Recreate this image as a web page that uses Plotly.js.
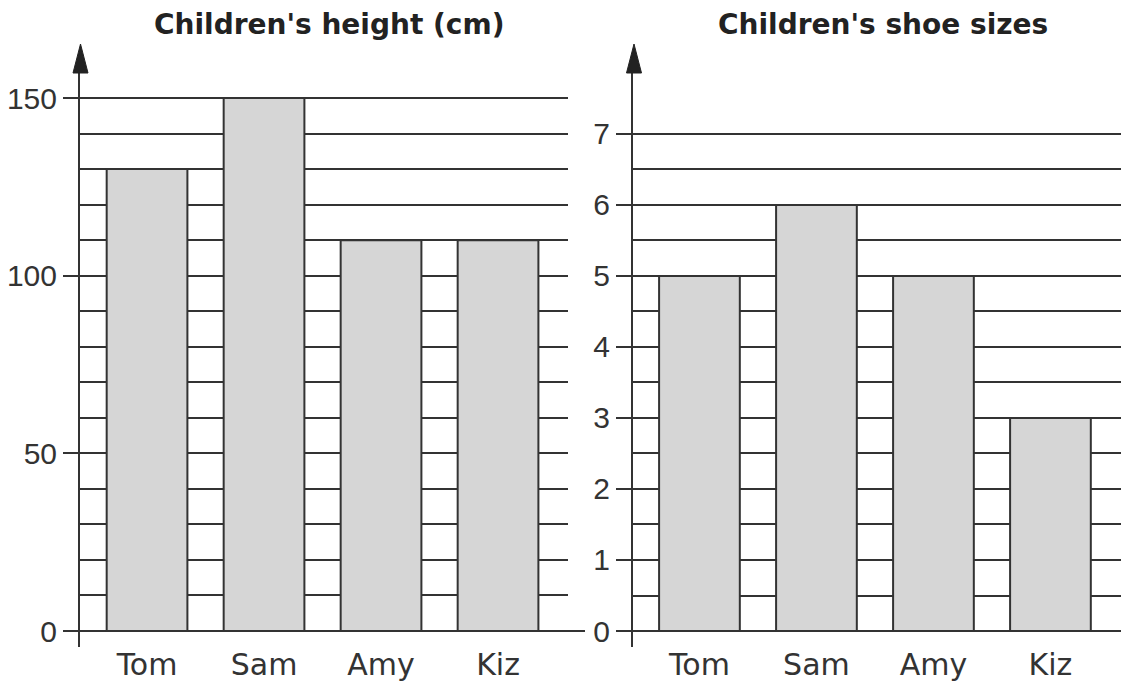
<!DOCTYPE html>
<html>
<head>
<meta charset="utf-8">
<script src="https://cdn.plot.ly/plotly-3.0.1.min.js"></script>
<style>html,body{margin:0;padding:0;background:#fff;}#chart{width:1121px;height:688px;}</style>
</head>
<body>
<div id="chart"></div>
<script>
// ---- data ----
const children = ["Tom", "Sam", "Amy", "Kiz"];
const heightsCm = [130, 150, 110, 110];
const shoeSizes = [5, 6, 5, 3];
const heightTitle = "Children's height (cm)";
const shoeTitle = "Children's shoe sizes";
const heightTickVals = [0, 50, 100, 150];
const shoeTickVals = [0, 1, 2, 3, 4, 5, 6, 7];
const heightGridStep = 10, heightGridMax = 150;
const shoeGridStep = 0.5, shoeGridMax = 7;

function steps(step, max) { const a = []; for (let v = 0; v <= max + 1e-9; v += step) a.push(+v.toFixed(3)); return a; }

const W = 1121, H = 688;
const px = x => x / W, py = y => (H - y) / H;

const ink = '#333333';
const barStyle = { color: '#d6d6d6', line: { color: ink, width: 2 } };

const traces = [
  { type: 'bar', x: children, y: heightsCm, xaxis: 'x', yaxis: 'y', marker: barStyle, hoverinfo: 'x+y' },
  { type: 'bar', x: children, y: shoeSizes, xaxis: 'x2', yaxis: 'y2', marker: barStyle, hoverinfo: 'x+y' }
];

const yDomain = [py(647), py(72)];
const xFont = { family: 'DejaVu Sans', size: 30, color: ink };
const yFont = { family: 'Liberation Sans, Arial', size: 30, color: ink };

function yAxis(range, tickvals, gridvals, anchor) {
  return {
    domain: yDomain, range: range, anchor: anchor, tickmode: 'array', tickvals: tickvals,
    ticks: 'outside', ticklen: 15, tickwidth: 2, tickcolor: ink,
    showline: true, linecolor: ink, linewidth: 2,
    showgrid: true, gridcolor: ink, gridwidth: 2,
    zeroline: false, tickfont: yFont, ticklabelstandoff: 0,
    minor: { tickmode: 'array', tickvals: gridvals, showgrid: true, gridcolor: ink, gridwidth: 2, ticks: '' },
    fixedrange: true
  };
}
function xAxis(domain, range, anchor) {
  return {
    domain: domain, range: range, anchor: anchor, type: 'category',
    showline: false, showgrid: false, zeroline: false, ticks: '',
    tickfont: xFont, ticklabelstandoff: -3, fixedrange: true
  };
}

function arrow(cx) {
  return {
    type: 'path', xref: 'paper', yref: 'paper', layer: 'above',
    path: `M ${px(cx)} ${py(44)} L ${px(cx - 7.5)} ${py(73)} L ${px(cx + 7.5)} ${py(73)} Z`,
    fillcolor: '#222', line: { color: '#222', width: 1 }
  };
}

const layout = {
  width: W, height: H,
  margin: { l: 0, r: 0, t: 0, b: 0 },
  paper_bgcolor: '#ffffff', plot_bgcolor: 'rgba(0,0,0,0)',
  showlegend: false, bargap: 0.31,
  xaxis: xAxis([px(80), px(568)], [-0.573, 3.598], 'y'),
  yaxis: yAxis([-4.503, 157.32], heightTickVals, steps(heightGridStep, heightGridMax), 'x'),
  xaxis2: xAxis([px(633), 1], [-0.568, 3.603], 'y2'),
  yaxis2: yAxis([-0.2254, 7.873], shoeTickVals, steps(shoeGridStep, shoeGridMax), 'x2'),
  shapes: [
    arrow(80.5), arrow(634),
    { type: 'line', xref: 'x domain', yref: 'y', x0: 0, x1: (585 - 80) / 488, y0: 0, y1: 0, line: { color: ink, width: 2 }, layer: 'below' }
  ],
  annotations: [
    { text: '<b>' + heightTitle + '</b>', xref: 'paper', yref: 'paper', x: px(329), y: py(25), xanchor: 'center', yanchor: 'middle', showarrow: false, font: { family: 'DejaVu Sans', size: 28, color: '#222' } },
    { text: '<b>' + shoeTitle + '</b>', xref: 'paper', yref: 'paper', x: px(882.5), y: py(25), xanchor: 'center', yanchor: 'middle', showarrow: false, font: { family: 'DejaVu Sans', size: 28, color: '#222' } }
  ]
};

Plotly.newPlot('chart', traces, layout, { displayModeBar: false, staticPlot: true });
</script>
</body>
</html>
